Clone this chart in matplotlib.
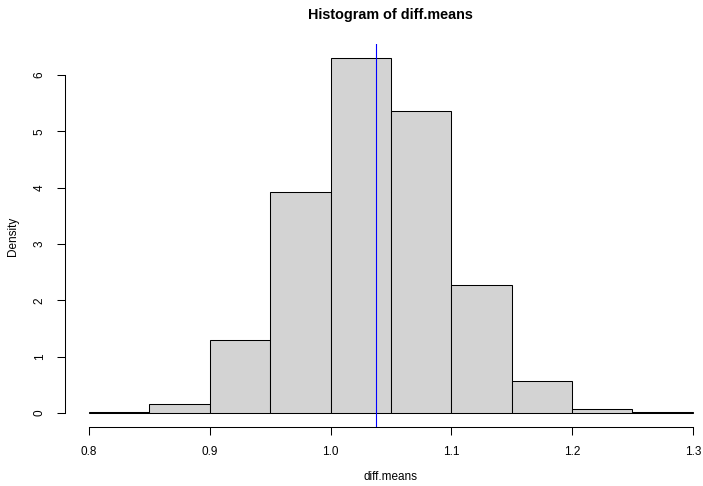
import matplotlib
matplotlib.use("Agg")
import matplotlib.pyplot as plt
import numpy as np

plt.rcParams['font.family'] = ['Liberation Sans', 'DejaVu Sans']

breaks = [0.80, 0.85, 0.90, 0.95, 1.00, 1.05, 1.10, 1.15, 1.20, 1.25, 1.30]
density = [0.02, 0.16, 1.30, 3.92, 6.30, 5.36, 2.27, 0.56, 0.08, 0.01]
mean_line = 1.0376
xticks = [0.8, 0.9, 1.0, 1.1, 1.2, 1.3]
xticklabels = ["0.8", "0.9", "1.0", "1.1", "1.2", "1.3"]
yticks = [0, 1, 2, 3, 4, 5, 6]

W, H = 703, 486
fig = plt.figure(figsize=(W / 100, H / 100), dpi=100)

left_px, right_px, top_px, bottom_px = 64.8, 717.0, 44.0, 427.2
ax = fig.add_axes([left_px / W, 1 - bottom_px / H,
                   (right_px - left_px) / W, (bottom_px - top_px) / H])

xmin, xmax = breaks[0], breaks[-1]
xr = xmax - xmin
ymax = max(density)
ax.set_xlim(xmin - 0.04 * xr, xmax + 0.04 * xr)
ax.set_ylim(-0.04 * ymax, ymax * 1.04)

widths = np.diff(breaks)
ax.bar(breaks[:-1], density, width=widths, align='edge',
       color='#D3D3D3', edgecolor='black', linewidth=0.75)

ax.axvline(mean_line, color='blue', linewidth=0.8)

for s in ['top', 'right']:
    ax.spines[s].set_visible(False)
ax.spines['bottom'].set_bounds(xticks[0], xticks[-1])
ax.spines['left'].set_bounds(yticks[0], yticks[-1])
for s in ['bottom', 'left']:
    ax.spines[s].set_linewidth(0.75)

ax.set_xticks(xticks)
ax.set_xticklabels(xticklabels)
ax.set_yticks(yticks)
ax.set_yticklabels([str(v) for v in yticks], rotation=90, va='center')
ax.tick_params(axis='both', direction='out', length=5.8, width=0.75,
               labelsize=8.5, pad=8)

fig.text(390.9 / W, 1 - 15 / H, "Histogram of diff.means", ha='center',
         va='center', fontsize=10.4, fontweight='bold')
fig.text(390.9 / W, 1 - 477 / H, "diff.means", ha='center', va='center',
         fontsize=8.5)
fig.text(13.3 / W, 1 - 236 / H, "Density", ha='center', va='center',
         rotation=90, fontsize=8.5)

fig.savefig("out.png", dpi=100)
